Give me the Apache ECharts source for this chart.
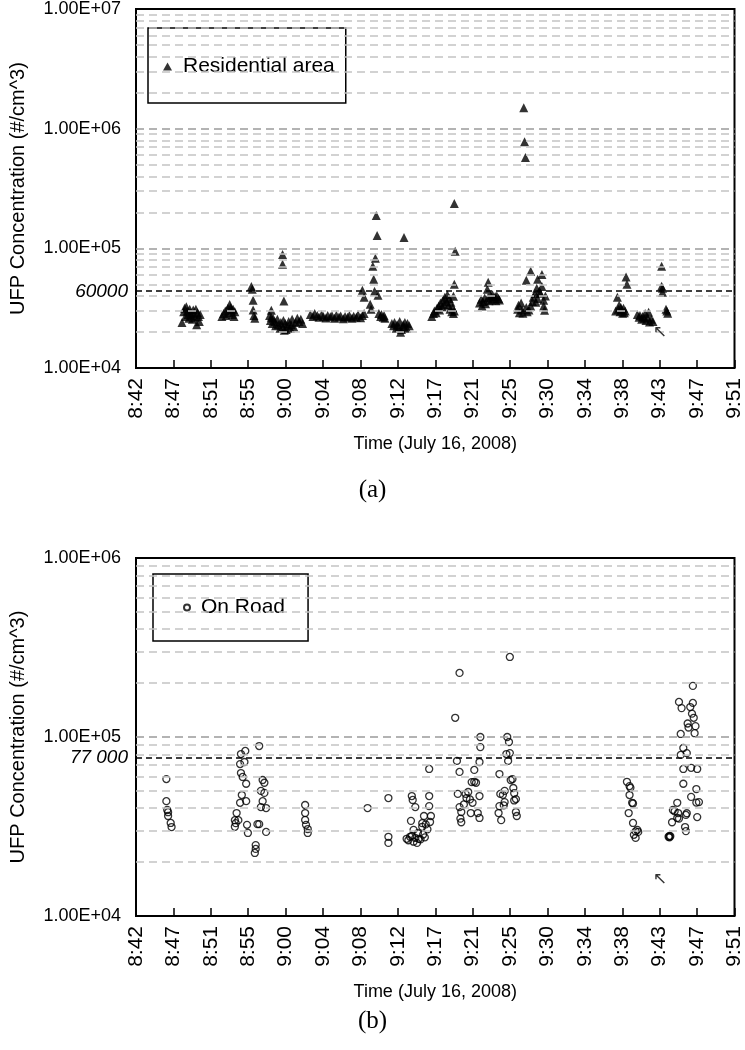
<!DOCTYPE html>
<html>
<head>
<meta charset="utf-8">
<script src="https://cdn.jsdelivr.net/npm/echarts@6/dist/echarts.min.js"></script>
<style>html,body{margin:0;padding:0;background:#fff}#c{width:745px;height:1050px}</style>
</head>
<body>
<div id="c"></div>
<script>
// ---------- DATA ----------
// time = minutes after 8:00 (e.g. 48.5 = 8:48:30), concentration in #/cm^3
const tickLabels = ['8:42','8:47','8:51','8:55','9:00','9:04','9:08','9:12','9:17','9:21','9:25','9:30','9:34','9:38','9:43','9:47','9:51'];
const axisStartMin = 42;   // 8:42
const axisSpanMin = 69;    // 8:42 -> 9:51

const residential = [
  [47.3,24000],[47.5,29500],[47.6,31500],[47.7,27000],[47.8,32500],[47.9,30000],[48.0,28000],[48.1,26000],[48.2,31000],[48.3,29000],[48.4,27500],[48.5,25500],[48.6,30500],[48.7,28500],[48.8,26500],[48.9,31000],[49.0,23000],[49.1,29000],[49.2,27000],[49.3,24500],[49.4,28000],
  [51.9,27000],[52.1,28500],[52.3,30000],[52.4,27500],[52.6,31500],[52.7,29000],[52.8,34000],[52.9,32000],[53.0,30500],[53.1,28000],[53.2,31000],[53.3,27000],[53.4,29500],
  [55.3,48000],[55.4,45500],[55.5,36800],[55.6,27500],[55.7,26100],[55.5,30500],
  [57.6,30400],[57.6,26500],[57.4,27500],[57.5,25000],[57.7,23500],[57.8,26000],[58.0,24500],[58.1,22500],[58.3,25500],[58.4,23000],[58.6,21500],[58.7,24000],[58.9,22000],[59.0,25000],[59.1,20700],[59.2,23500],[59.3,21000],[59.5,22500],[59.6,24500],[59.8,21500],[59.9,23000],[60.0,25500],[60.2,22000],[60.4,24000],[60.6,26000],[60.8,24500],[61.0,25500],[61.2,23500],
  [58.9,89000],[58.9,73500],[59.05,36300],
  [62.1,28000],[62.4,27000],[62.6,28500],[62.9,27500],[63.1,26500],[63.4,27800],[63.6,27000],[63.9,26200],[64.1,27500],[64.4,26800],[64.6,27300],[64.9,26000],[65.1,27600],[65.4,26700],[65.6,27200],[65.9,25800],[66.1,27000],[66.4,26500],[66.6,27400],[66.9,26000],[67.1,27100],[67.4,26600],[67.6,27800],[67.9,26300],[68.1,27500],[68.3,28500],
  [68.1,44700],[68.3,39000],[69.0,34100],[69.1,31000],[69.3,70800],[69.4,55200],[69.5,43800],[69.6,82500],[69.7,188000],[69.8,128000],[69.9,40600],[70.0,28500],[70.2,27000],[70.3,28000],[70.5,26500],[70.6,27500],[70.7,26000],
  [71.5,23500],[71.7,22500],[71.8,24000],[72.0,21500],[72.1,23000],[72.3,22000],[72.4,24500],[72.5,19900],[72.6,21000],[72.8,23000],[72.9,22000],[73.0,24000],[73.2,21500],[73.3,23500],[73.5,22500],[72.9,123000],
  [76.1,27000],[76.3,28500],[76.4,30000],[76.6,29000],[76.7,31500],[76.9,33000],[77.0,30500],[77.1,35000],[77.3,32500],[77.4,37000],[77.5,34000],[77.6,39000],[77.8,36000],[77.9,41000],[78.0,33500],[78.1,38000],[78.2,31000],[78.3,35500],[78.4,29500],[78.5,32000],[78.6,28500],[78.7,30000],
  [78.7,237000],[78.8,94400],[78.7,50100],[78.6,39800],
  [81.6,35000],[81.8,37500],[81.9,33000],[82.0,36000],[82.2,38500],[82.3,34500],[82.6,52000],[82.5,45600],[82.6,39000],[82.7,36500],[82.9,40600],[83.0,37000],[83.1,41000],[83.2,38000],[83.4,39500],[83.5,36500],[83.6,40000],[83.8,38000],[83.9,37000],
  [86.7,1496000],[86.8,779000],[86.9,573000],
  [86.0,31000],[86.1,33500],[86.2,29000],[86.4,35000],[86.5,30500],[86.6,28700],[87.0,54000],[87.0,32000],[87.1,29500],[87.3,30500],[87.5,64300],[87.5,33000],[87.7,36000],[87.8,39000],[88.0,42000],[88.1,35500],[88.2,46400],[88.3,38000],[88.3,55200],[88.5,44000],[88.6,42200],[88.8,60500],[88.8,48000],[89.0,36800],[89.0,33000],[89.1,30400],[89.2,40000],
  [97.3,30000],[97.5,39000],[97.6,31000],[97.7,33500],[97.8,29500],[97.9,32000],[98.0,30500],[98.1,28700],[98.2,31500],[98.3,29000],[98.4,30000],[98.5,57500],[98.6,50100],
  [99.8,28000],[100.0,26500],[100.1,27500],[100.3,25500],[100.4,27000],[100.6,26000],[100.7,28500],[100.8,25000],[101.0,26500],[101.1,29300],[101.2,24200],[101.4,25500],[101.6,24500],
  [102.6,70800],[102.6,48200],[102.7,46400],[102.7,43000],[103.1,31000],[103.3,28700],[103.2,30000]
];

const onRoad = [
  [45.5,58200],[45.5,43800],[45.6,39100],[45.7,38000],[45.7,36200],[46.0,33100],[46.1,31400],
  [54.6,83600],[54.1,80300],[54.5,72500],[54.0,70600],[56.2,89000],[54.1,62900],[54.3,59800],[54.7,54800],[54.2,47400],[54.0,42900],[54.7,43800],[53.6,37600],[53.4,34300],[53.5,33000],[53.4,31500],[53.8,34300],[54.8,32300],[54.9,29100],[56.0,32600],[56.2,32600],[56.6,57500],[56.8,55500],[56.4,50000],[56.8,48700],[56.6,43800],[56.4,40600],[57.0,40100],[57.0,29500],[55.8,24900],[55.8,23700],[55.7,22500],
  [61.5,41700],[61.5,37600],[61.5,34400],[61.6,32300],[61.8,30600],[61.8,29100],
  [68.7,40100],
  [71.1,45600],[71.1,27700],[71.1,25600],
  [73.8,46800],[73.9,44500],[74.2,40600],[75.8,66300],[75.8,46800],[75.8,41100],[76.0,36200],[73.7,34000],[75.2,36200],[75.0,33000],[75.0,31500],[75.4,32500],[75.6,30500],[75.9,33500],[73.2,27000],[73.4,26500],[73.6,27700],[73.8,28000],[74.0,26000],[74.2,27300],[74.4,25600],[74.6,27000],[74.0,30300],[74.8,26800],[75.1,28500],[75.3,27500],[74.5,29000],
  [79.3,228000],[78.8,128000],[79.0,73500],[79.3,63800],[79.1,48100],[81.7,100000],[81.7,87800],[81.6,72500],[81.0,65500],[81.0,56200],[81.2,55500],[80.7,56000],[80.3,49300],[80.0,48100],[81.6,46800],[80.1,45600],[80.5,44800],[79.3,40600],[79.8,42000],[80.8,42900],[79.5,38100],[80.6,37600],[81.4,37600],[79.4,35000],[79.5,33400],[81.6,35300],
  [85.1,280000],[84.8,100000],[85.0,93800],[84.7,80300],[85.1,81300],[84.9,73500],[83.9,62100],[85.4,58200],[85.2,57500],[85.5,51900],[84.5,50000],[84.0,48100],[85.6,48500],[84.3,47500],[85.8,45000],[85.6,44200],[84.5,43300],[83.9,41100],[84.4,41500],[83.8,37600],[85.8,38100],[85.9,36200],[84.1,34300],
  [98.6,56200],[98.9,53200],[99.0,52000],[98.9,47400],[99.2,42900],[99.3,42500],[98.8,37600],[99.3,33100],[99.8,30300],[99.6,29700],[99.4,28400],[99.6,27300],[99.9,29500],
  [103.4,27700],[103.5,27500],[103.6,27900],[103.5,28000],[103.8,33400],[104.4,42900],[103.9,39100],[104.1,38500],[104.5,37600],[104.4,35300],[104.6,35000],[105.3,31400],[105.4,29800],[105.4,36700],[105.5,37500],[105.1,54800],[105.1,66300],[104.6,157000],[104.9,145000],[104.8,104000],[105.1,86800],[105.5,81300],[104.8,79400],[105.6,119000],[105.7,113000],[106.2,155000],[105.9,147000],[106.2,193000],[106.1,135000],[106.3,128000],[106.5,115000],[106.4,105000],[106.0,67300],[106.7,66300],[106.6,51200],[106.0,46300],[106.9,43300],[106.6,43000],[106.7,35700]
];

// reference lines: text shown and the level at which the figure draws it
const refLineA = { text: '60000', drawnAt: 43800 };
const refLineB = { text: '77 000', drawnAt: 77000 };
// small arrow annotations [time, level]
const arrowA = [102.4, 19600];
const arrowB = [102.4, 15900];

const minorSteps = [2,3,4,5,6,7,8,9];
const decadesA = [1e4, 1e5, 1e6];
const decadesB = [1e4, 1e5];

// ---------- CHART ----------
const FONT = '"Liberation Sans", Arial, sans-serif';
const step = axisSpanMin / 16;

function gridValues(decades) {
  const out = [];
  decades.forEach((d, i) => {
    if (i > 0) out.push({ v: d, major: true });
    minorSteps.forEach(m => out.push({ v: d * m, major: false }));
  });
  return out;
}
function fmtE(v) {
  const e = Math.round(Math.log10(v));
  return '1.00E+' + (e < 10 ? '0' : '') + e;
}
function xAxisCfg(gi) {
  return {
    type: 'value', gridIndex: gi, min: 0, max: axisSpanMin, interval: step,
    axisLine: { show: false },
    axisTick: { show: true, inside: true, length: 8, lineStyle: { color: '#000', width: 1.5 } },
    splitLine: { show: false },
    axisLabel: { rotate: 90, fontSize: 21, color: '#000', fontFamily: FONT, margin: 10,
      formatter: v => tickLabels[Math.round(v / step)] },
    name: 'Time (July 16, 2008)', nameLocation: 'middle', nameGap: 67,
    nameTextStyle: { fontSize: 18, color: '#000', fontFamily: FONT }
  };
}
function yAxisCfg(gi, max) {
  return {
    type: 'log', logBase: 10, gridIndex: gi, min: 1e4, max: max,
    axisLine: { show: false }, axisTick: { show: false }, splitLine: { show: false },
    axisLabel: { fontSize: 18, color: '#000', fontFamily: FONT, margin: 15, formatter: fmtE },
    name: 'UFP Concentration (#/cm^3)', nameLocation: 'middle', nameGap: 108,
    nameTextStyle: { fontSize: 20, color: '#000', fontFamily: FONT }
  };
}
function gridSeries(gi, decades) {
  return {
    type: 'line', xAxisIndex: gi, yAxisIndex: gi, data: [], z: 1, silent: true,
    markLine: {
      symbol: 'none', silent: true, animation: false, label: { show: false },
      data: gridValues(decades).map(g => ({
        yAxis: g.v,
        lineStyle: { color: g.major ? '#9a9a9a' : '#c4c4c4', type: [8, 5], width: 1.5 }
      }))
    }
  };
}
function refSeries(gi, ref, arrow) {
  return {
    type: 'line', xAxisIndex: gi, yAxisIndex: gi, data: [], z: 3, silent: true,
    markLine: {
      symbol: 'none', silent: true, animation: false,
      lineStyle: { color: '#000', type: [6, 4], width: 1.5 },
      data: [{ yAxis: ref.drawnAt,
        label: { show: true, position: 'start', distance: 8, formatter: ref.text,
          fontSize: 19, fontStyle: 'italic', color: '#000', fontFamily: FONT } }]
    },
    markPoint: {
      silent: true, animation: false, symbol: 'circle', symbolSize: 1,
      itemStyle: { color: 'rgba(0,0,0,0)' },
      label: { show: true, position: 'inside', formatter: '\u2196', fontSize: 17, color: '#333', fontFamily: '"DejaVu Sans"' },
      data: [{ coord: [arrow[0] - axisStartMin, arrow[1]] }]
    }
  };
}

const chart = echarts.init(document.getElementById('c'), null, { renderer: 'canvas' });
chart.setOption({
  animation: false,
  backgroundColor: '#fff',
  title: [
    { text: '(a)', left: 'center', top: 478, padding: 0,
      textStyle: { fontFamily: '"Liberation Serif", "Times New Roman", serif', fontSize: 25, fontWeight: 'normal', color: '#000' } },
    { text: '(b)', left: 'center', top: 1009, padding: 0,
      textStyle: { fontFamily: '"Liberation Serif", "Times New Roman", serif', fontSize: 25, fontWeight: 'normal', color: '#000' } }
  ],
  grid: [
    { left: 132, top: 8, width: 603, height: 360, show: true, borderColor: '#000', borderWidth: 2, backgroundColor: 'rgba(0,0,0,0)' },
    { left: 132, top: 558, width: 603, height: 358, show: true, borderColor: '#000', borderWidth: 2, backgroundColor: 'rgba(0,0,0,0)' }
  ],
  legend: [
    { data: ['Residential area'], left: 148, top: 28, orient: 'vertical',
      borderColor: '#000', borderWidth: 1.5, backgroundColor: '#fff',
      padding: [28, 11, 26, 15], itemWidth: 9, itemHeight: 8,
      textStyle: { fontSize: 21, color: '#000', fontFamily: FONT, padding: [0, 0, 0, 6] } },
    { data: ['On Road'], left: 153, top: 574, orient: 'vertical',
      borderColor: '#000', borderWidth: 1.5, backgroundColor: '#fff',
      padding: [23, 23, 23, 30], itemWidth: 6, itemHeight: 6,
      textStyle: { fontSize: 21, color: '#000', fontFamily: FONT, padding: [0, 0, 0, 6] } }
  ],
  xAxis: [xAxisCfg(0), xAxisCfg(1)],
  yAxis: [yAxisCfg(0, 1e7), yAxisCfg(1, 1e6)],
  series: [
    gridSeries(0, decadesA),
    gridSeries(1, decadesB),
    refSeries(0, refLineA, arrowA),
    refSeries(1, refLineB, arrowB),
    { name: 'Residential area', type: 'scatter', xAxisIndex: 0, yAxisIndex: 0, z: 4,
      symbol: 'triangle', symbolSize: 9, itemStyle: { color: '#000' },
      data: residential.map(p => [p[0] - axisStartMin, p[1]]) },
    { name: 'On Road', type: 'scatter', xAxisIndex: 1, yAxisIndex: 1, z: 4,
      symbol: 'circle', symbolSize: 7,
      itemStyle: { color: 'rgba(255,255,255,0)', borderColor: '#000', borderWidth: 1.3 },
      data: onRoad.map(p => [p[0] - axisStartMin, p[1]]) }
  ]
});
</script>
</body>
</html>
